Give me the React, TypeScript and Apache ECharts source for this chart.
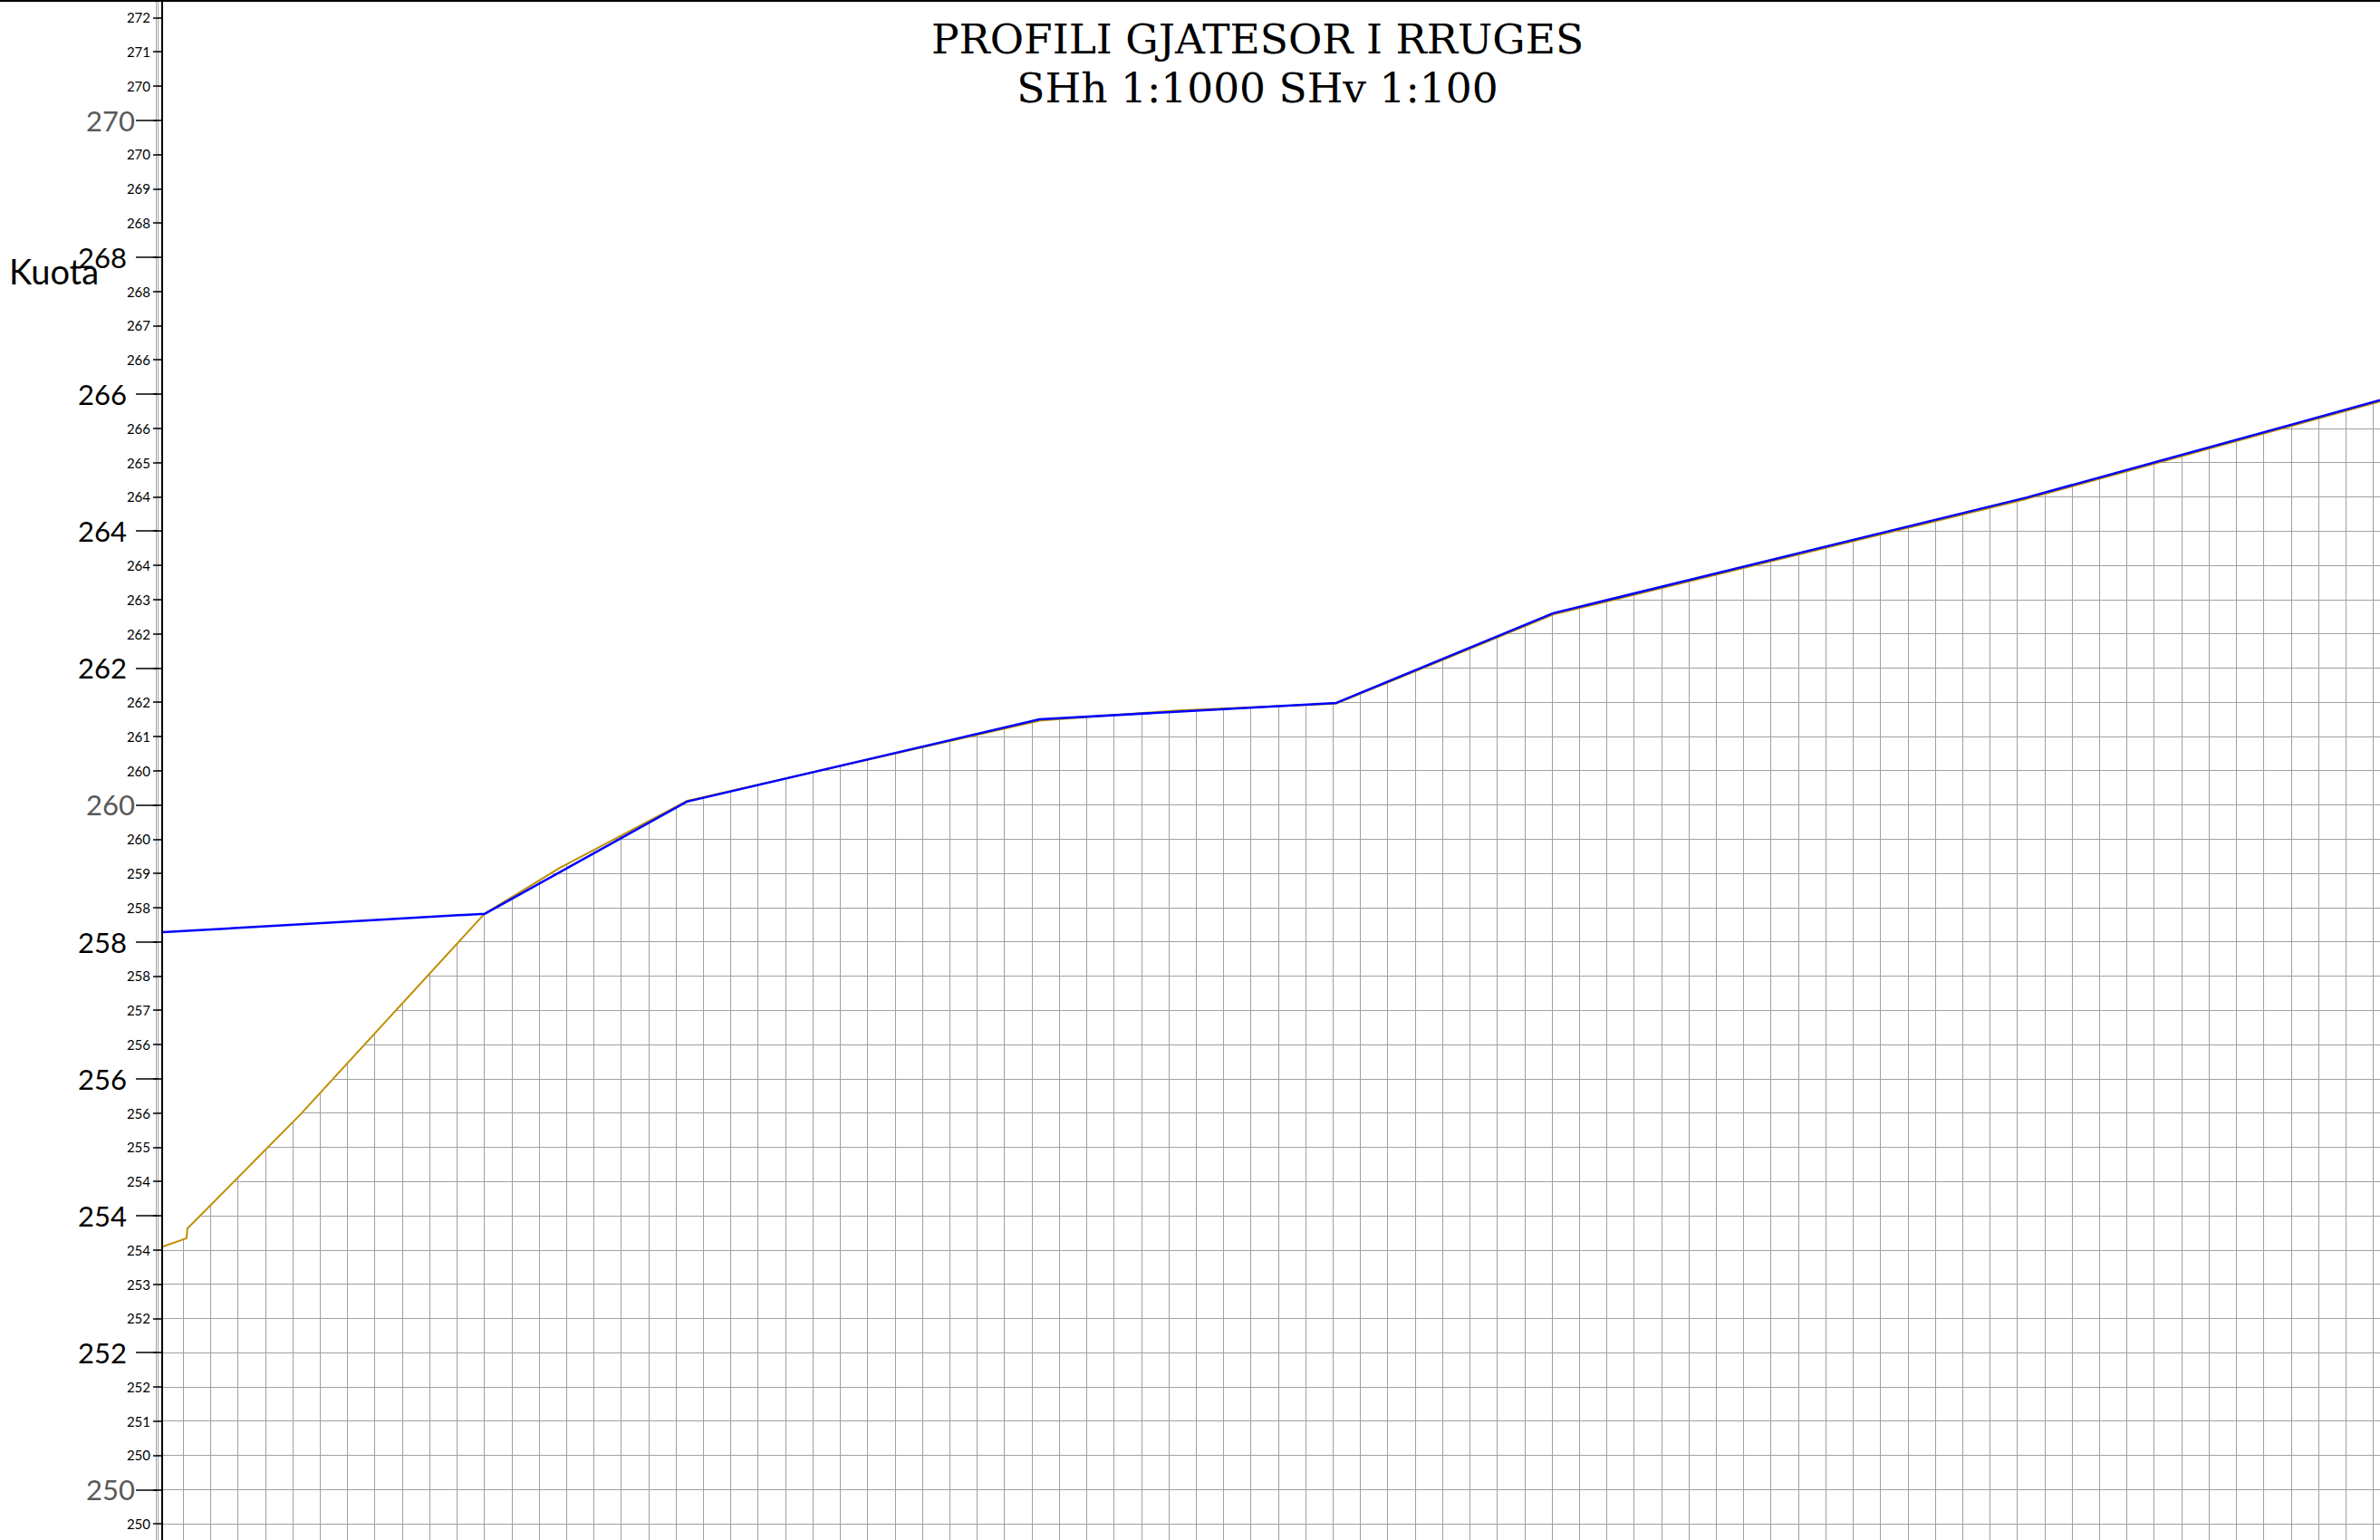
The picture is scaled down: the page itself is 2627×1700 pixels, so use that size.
import React, { useEffect, useRef } from "react";
import * as echarts from "echarts";

// Stations (m) and elevations (m)
const designX = [1.06, 48.1, 77.67, 129.14, 172.5, 204.2, 273.4, 325];
const designZ = [258.14, 258.41, 260.05, 261.25, 261.49, 262.8, 264.49, 265.91];

const groundX = [1.06, 4.5, 4.6, 21.14, 48.03, 59.01, 77.67, 129.14, 149.4, 172.5, 204.2, 273.4, 325];
const groundZ = [253.55, 253.67, 253.81, 255.48, 258.41, 259.08, 260.06, 261.23, 261.38, 261.48, 262.78, 264.47, 265.89];

const titleLines = ["PROFILI GJATESOR I RRUGES", "SHh 1:1000 SHv 1:100"];
const yName = "Kuota";

const xMin = 0;
const xMax = 325;
const xStep = 4;
const yMin = 248;
const yMax = 271.75;
const yMinorStep = 0.5;
const yMajorStep = 2;

function roundHalfEven(v: number): number {
  const f = Math.floor(v);
  const d = v - f;
  if (Math.abs(d - 0.5) < 1e-9) return f % 2 === 0 ? f : f + 1;
  return Math.round(v);
}

export default function App() {
  const ref = useRef<HTMLDivElement>(null);
  useEffect(() => {
    if (!ref.current) return;
    const chart = echarts.init(ref.current, undefined, { renderer: "svg" });
    const ground = groundX.map((x, i) => [x, groundZ[i]]);
    const design = designX.map((x, i) => [x, designZ[i]]);
    const gridColor = "#a0a0a0";
    const labelFont = "Lato";
    const commonY = { type: "value", min: yMin, max: yMax, position: "left" } as any;
    chart.setOption({
      animation: false,
      backgroundColor: "#ffffff",
      grid: { left: 172, top: 0.44, width: 2455, height: 1795, outerBoundsMode: "none", containLabel: false },
      xAxis: [
        {
          type: "value",
          min: xMin,
          max: xMax,
          interval: xStep,
          position: "top",
          z: 0,
          axisLine: { show: false },
          axisTick: { show: false },
          axisLabel: { show: false },
          splitLine: { show: true, lineStyle: { color: gridColor, width: 1 } },
        },
      ],
      yAxis: [
        {
          ...commonY,
          interval: yMinorStep,
          z: 0,
          axisLine: { show: false },
          axisTick: { show: false },
          axisLabel: { show: false },
          splitLine: { show: true, lineStyle: { color: gridColor, width: 1 } },
        },
        {
          ...commonY,
          interval: yMinorStep,
          offset: -7,
          z: 10,
          axisLine: { show: true, lineStyle: { color: "#000", width: 2 } },
          axisTick: { show: true, length: 10, lineStyle: { color: "#000", width: 1.5 } },
          splitLine: { show: false },
          axisLabel: {
            show: true,
            margin: 13,
            fontSize: 15,
            fontFamily: labelFont,
            color: "#000",
            showMinLabel: true,
            showMaxLabel: true,
            formatter: (v: number) => {
              if (Math.abs(v * 2 - Math.round(v * 2)) > 1e-6) return "";
              if (Math.abs(v - Math.round(v)) < 1e-6 && Math.round(v) % 2 === 0) return "";
              return String(roundHalfEven(v));
            },
          },
        },
        {
          ...commonY,
          interval: yMajorStep,
          offset: -2,
          z: 10,
          axisLine: { show: true, lineStyle: { color: "#a6a6a6", width: 1 } },
          axisTick: { show: true, length: 24, lineStyle: { color: "#000", width: 1.5 } },
          splitLine: { show: false },
          axisLabel: {
            show: true,
            margin: 34,
            fontSize: 31,
            fontFamily: labelFont,
            color: "#000",
            formatter: (v: number) => {
              const r = Math.round(v);
              if (Math.abs(v - r) > 1e-6 || r % 2 !== 0 || r % 10 === 0) return "";
              return String(r);
            },
          },
        },
        {
          ...commonY,
          interval: yMajorStep,
          offset: -2,
          z: 10,
          axisLine: { show: false },
          axisTick: { show: false },
          splitLine: { show: false },
          axisLabel: {
            show: true,
            margin: 25,
            fontSize: 31,
            fontFamily: labelFont,
            color: "#595959",
            formatter: (v: number) => {
              const r = Math.round(v);
              if (Math.abs(v - r) > 1e-6 || r % 10 !== 0) return "";
              return String(r);
            },
          },
        },
      ],
      series: [
        {
          name: "Terreni",
          type: "line",
          xAxisIndex: 0,
          yAxisIndex: 0,
          data: ground,
          symbol: "none",
          z: 3,
          lineStyle: { color: "#bf8f00", width: 2 },
          areaStyle: { color: "#ffffff", opacity: 1, origin: "end" },
        },
        {
          name: "Projekti",
          type: "line",
          xAxisIndex: 0,
          yAxisIndex: 0,
          data: design,
          symbol: "none",
          z: 4,
          lineStyle: { color: "#0000ff", width: 2.5 },
        },
      ],
      graphic: [
        {
          type: "line",
          z: 20,
          shape: { x1: 0, y1: 1, x2: 2627, y2: 1 },
          style: { stroke: "#000", lineWidth: 2 },
        },
        {
          type: "text",
          z: 20,
          x: 1388,
          y: 16,
          style: {
            text: titleLines.join("\n"),
            fontFamily: "DejaVu Serif",
            fontSize: 45.5,
            lineHeight: 54,
            align: "center",
            verticalAlign: "top",
            fill: "#000",
          },
        },
        {
          type: "text",
          z: 20,
          x: 10,
          y: 280,
          style: {
            text: yName,
            fontFamily: labelFont,
            fontSize: 38,
            align: "left",
            verticalAlign: "top",
            fill: "#000",
          },
        },
      ],
    });
    return () => chart.dispose();
  }, []);
  return (
    <div
      ref={ref}
      style={{ position: "fixed", left: 0, top: 0, width: 2627, height: 1700, background: "#fff" }}
    />
  );
}
